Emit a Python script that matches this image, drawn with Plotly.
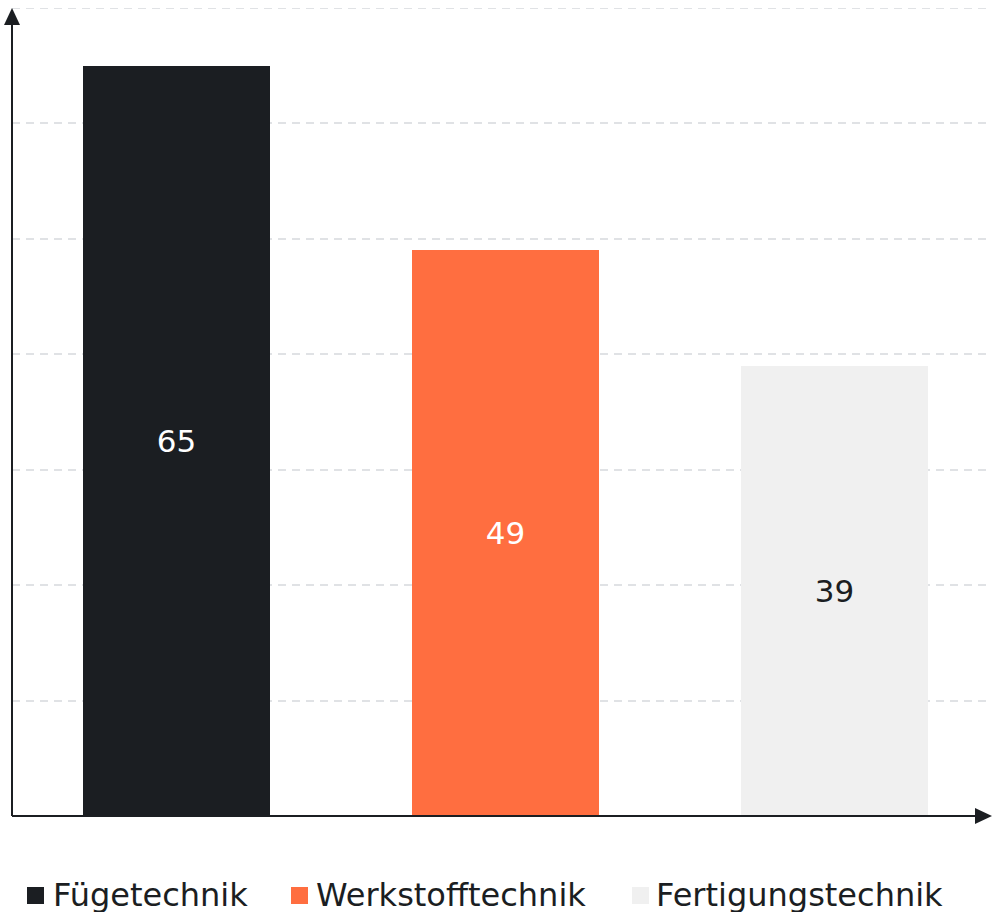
import plotly.graph_objects as go

categories = ["Fügetechnik", "Werkstofftechnik", "Fertigungstechnik"]
values = [65, 49, 39]
colors = ["#1b1e22", "#ff6e40", "#f0f0f0"]
text_colors = ["#ffffff", "#ffffff", "#1b1e22"]
y_max = 70

W, H = 992, 912
ML, MR, MT, MB = 12, 0, 8, 96
PW, PH = W - ML - MR, H - MT - MB

def px(x):
    return (x - ML) / PW

def py(y):
    return (MT + PH - y) / PH

grid_col = "#e0e2e5"
grid_dash = "8px,6px"

fig = go.Figure()
fig.add_trace(go.Bar(
    x=categories, y=values,
    marker=dict(color=colors, line=dict(width=0)),
    width=0.567,
    text=[str(v) for v in values],
    textposition="inside", insidetextanchor="middle",
    textfont=dict(family="DejaVu Sans", size=31, color=text_colors),
    showlegend=False, hoverinfo="skip",
))

axis_col = "#1b1e22"
shapes = [
    # top gridline (at range end)
    dict(type="line", xref="paper", yref="y", x0=0, x1=1, y0=y_max, y1=y_max,
         line=dict(color=grid_col, width=2, dash=grid_dash), layer="below"),
    # y axis line + arrow
    dict(type="line", xref="paper", yref="paper", x0=0, x1=0, y0=0, y1=py(22),
         line=dict(color=axis_col, width=2)),
    dict(type="path", xref="paper", yref="paper",
         path=f"M {px(12)},{py(8)} L {px(4)},{py(25)} L {px(20)},{py(25)} Z",
         fillcolor=axis_col, line=dict(width=0)),
    # x axis line + arrow
    dict(type="line", xref="paper", yref="paper", x0=0, x1=px(978), y0=0, y1=0,
         line=dict(color=axis_col, width=2)),
    dict(type="path", xref="paper", yref="paper",
         path=f"M {px(992)},{py(816)} L {px(975)},{py(808)} L {px(975)},{py(824)} Z",
         fillcolor=axis_col, line=dict(width=0)),
]

annotations = []
legend_pos = [(27, 53), (291, 316), (632, 656)]
for (sq, tx), name, col in zip(legend_pos, categories, colors):
    shapes.append(dict(type="rect", xref="paper", yref="paper",
                       x0=px(sq), x1=px(sq + 17), y0=py(887), y1=py(904),
                       fillcolor=col, line=dict(width=0)))
    annotations.append(dict(text=name, xref="paper", yref="paper",
                            x=px(tx - 2), y=py(895), xanchor="left", yanchor="middle",
                            showarrow=False,
                            font=dict(family="DejaVu Sans", size=32, color="#1b1e22")))

fig.update_layout(
    width=W, height=H,
    margin=dict(l=ML, r=MR, t=MT, b=MB, pad=0),
    paper_bgcolor="white", plot_bgcolor="white",
    xaxis=dict(range=[-0.5, 2.479], showgrid=False, showticklabels=False,
               showline=False, zeroline=False, ticks=""),
    yaxis=dict(range=[0, y_max], dtick=10, showgrid=True, gridcolor=grid_col,
               griddash=grid_dash, gridwidth=2, showticklabels=False,
               showline=False, zeroline=False, ticks=""),
    shapes=shapes, annotations=annotations,
    bargap=0,
)

fig.write_html("out.html", config={"displayModeBar": False},
               post_script="document.body.style.margin='0';document.body.style.overflow='hidden';")
